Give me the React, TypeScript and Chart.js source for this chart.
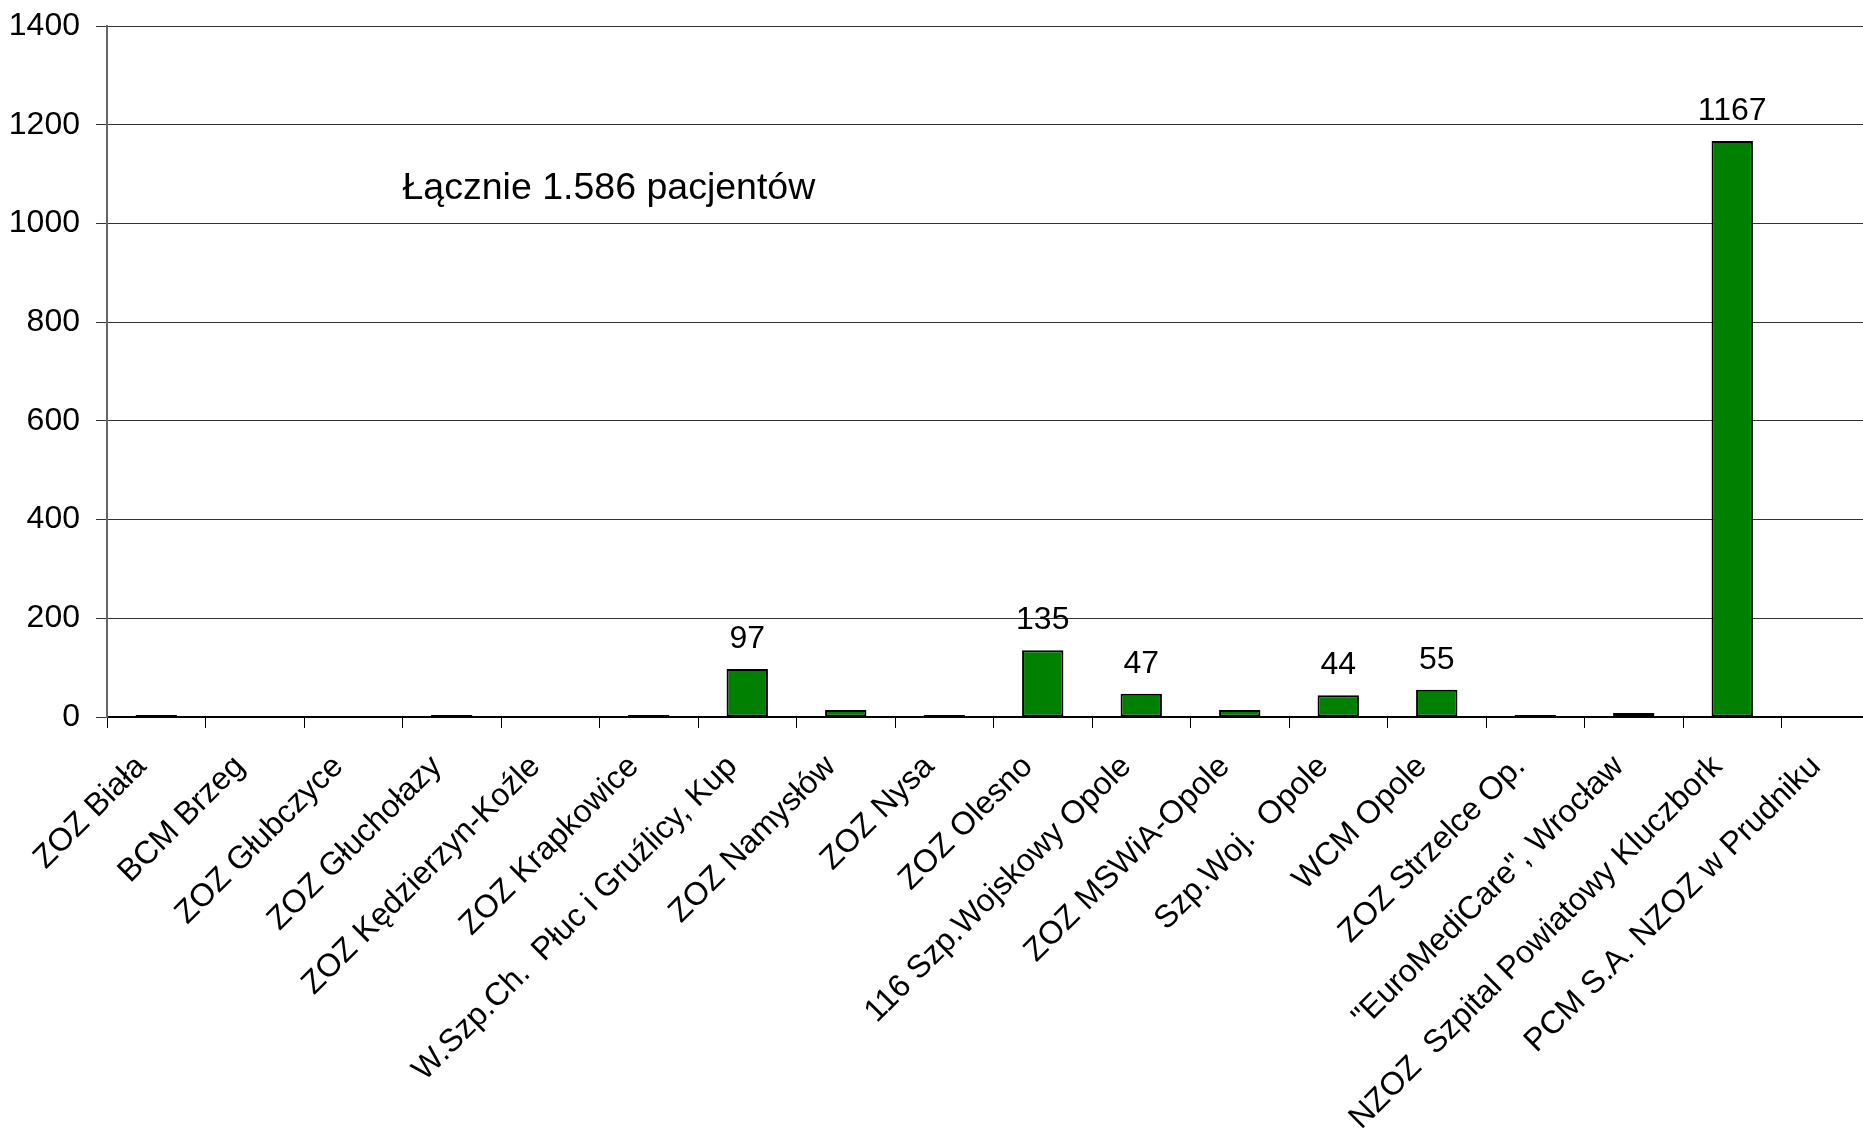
import React, { useEffect, useRef } from "react";
import { Chart, registerables } from "chart.js";

Chart.register(...registerables);

const categories = [
  "ZOZ Biała",
  "BCM Brzeg",
  "ZOZ Głubczyce",
  "ZOZ Głuchołazy",
  "ZOZ Kędzierzyn-Koźle",
  "ZOZ Krapkowice",
  "W.Szp.Ch.  Płuc i Gruźlicy, Kup",
  "ZOZ Namysłów",
  "ZOZ Nysa",
  "ZOZ Olesno",
  "116 Szp.Wojskowy Opole",
  "ZOZ MSWiA-Opole",
  "Szp.Woj.  Opole",
  "WCM Opole",
  "ZOZ Strzelce Op.",
  "\"EuroMediCare\", Wrocław",
  "NZOZ  Szpital Powiatowy Kluczbork",
  "PCM S.A. NZOZ w Prudniku",
];

// null = no patients reported (no bar drawn)
const patients: (number | null)[] = [1, null, null, 1, null, 1, 97, 14, 1, 135, 47, 14, 44, 55, 1, 8, 1167, null];

const yTicks = [0, 200, 400, 600, 800, 1000, 1200, 1400];

const annotationText = "Łącznie 1.586 pacjentów";
const labelThreshold = 40;

const FONT = "'Liberation Sans', Arial, sans-serif";
const FONT_SIZE = 32;

export default function App() {
  const canvasRef = useRef<HTMLCanvasElement | null>(null);

  useEffect(() => {
    const canvas = canvasRef.current;
    if (!canvas) return;

    const valueLabels = {
      id: "valueLabels",
      afterDatasetsDraw(chart: any) {
        const ctx = chart.ctx;
        const meta = chart.getDatasetMeta(0);
        ctx.save();
        ctx.font = `${FONT_SIZE}px ${FONT}`;
        ctx.fillStyle = "#000";
        ctx.textAlign = "center";
        ctx.textBaseline = "alphabetic";
        meta.data.forEach((bar: any, i: number) => {
          const v = patients[i];
          if (v != null && v >= labelThreshold) {
            ctx.fillText(String(v), bar.x, bar.y - 21);
          }
        });
        const xs = chart.scales.x;
        const ys = chart.scales.y;
        ctx.font = `37.5px ${FONT}`;
        ctx.textAlign = "left";
        ctx.textBaseline = "middle";
        ctx.fillText(annotationText, xs.getPixelForValue(2.5), ys.getPixelForValue(1070));
        ctx.restore();
      },
    };

    const chart = new Chart(canvas, {
      type: "bar",
      data: {
        labels: categories,
        datasets: [
          {
            data: patients,
            backgroundColor: "#008000",
            borderColor: "#000000",
            borderWidth: 2,
            borderSkipped: false,
            minBarLength: 2,
            barPercentage: 0.42,
            categoryPercentage: 1,
          },
        ],
      },
      options: {
        responsive: false,
        animation: false,
        devicePixelRatio: 1,
        layout: { padding: { top: 26, left: 0, right: 0, bottom: 0 } },
        plugins: {
          legend: { display: false },
          tooltip: { enabled: false },
          title: { display: false },
        },
        scales: {
          x: {
            grid: {
              display: true,
              offset: true,
              drawOnChartArea: false,
              drawTicks: true,
              tickLength: 11,
              color: "#000",
              lineWidth: 1,
            },
            border: { display: true, color: "#000", width: 2 },
            ticks: {
              autoSkip: false,
              maxRotation: 45,
              minRotation: 45,
              padding: 20,
              labelOffset: -15,
              color: "#000",
              font: { family: FONT, size: FONT_SIZE },
            },
            afterFit(scale: any) {
              scale.height = 414;
            },
          },
          y: {
            min: 0,
            max: 1400,
            afterBuildTicks(scale: any) {
              scale.ticks = yTicks.map((v) => ({ value: v }));
            },
            grid: {
              color: "#333",
              lineWidth: 1,
              drawTicks: true,
              tickLength: 11,
            },
            border: { display: true, color: "#666", width: 2 },
            ticks: {
              padding: 16,
              color: "#000",
              font: { family: FONT, size: FONT_SIZE, lineHeight: 0.6 },
              callback: (v: any) => String(v),
            },
            afterFit(scale: any) {
              scale.width = 107;
            },
          },
        },
      },
      plugins: [valueLabels],
    });

    return () => {
      chart.destroy();
    };
  }, []);

  return (
    <div style={{ position: "fixed", left: 0, top: 0, width: 1863, height: 1131, overflow: "hidden", background: "#fff" }}>
      <canvas ref={canvasRef} width={1880} height={1131} style={{ width: 1880, height: 1131, display: "block" }} />
    </div>
  );
}
